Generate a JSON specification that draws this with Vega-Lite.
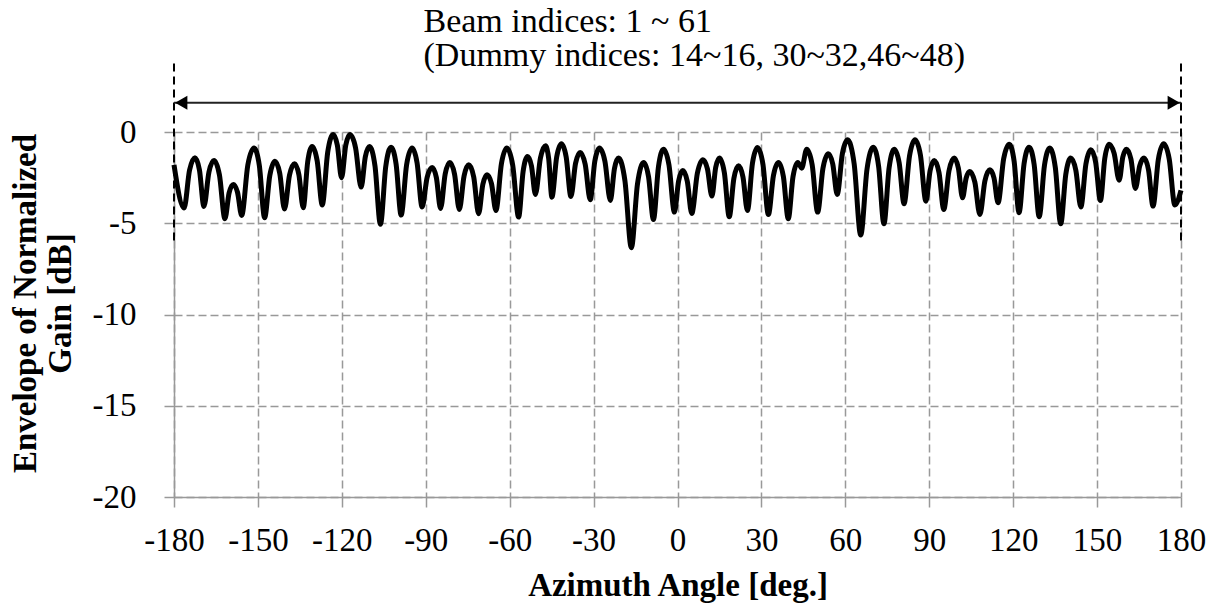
{
  "$schema": "https://vega.github.io/schema/vega-lite/v6.json",
  "autosize": {"type": "none"},
  "width": 1007,
  "height": 365,
  "padding": {"left": 174, "top": 132, "right": 35, "bottom": 106},
  "background": "white",
  "config": {"view": {"stroke": null}, "font": "Liberation Serif"},
  "datasets": {
    "curve": [
      {"deg": -180, "db": -1.8}, {"deg": -176.4, "db": -4.17},
      {"deg": -174.45, "db": -2.1}, {"deg": -172.5, "db": -1.41}, {"deg": -170.9, "db": -2.08}, {"deg": -169.3, "db": -4.08},
      {"deg": -167.5, "db": -2.19}, {"deg": -165.7, "db": -1.56}, {"deg": -163.75, "db": -2.36}, {"deg": -161.8, "db": -4.75},
      {"deg": -160.3, "db": -3.34}, {"deg": -158.8, "db": -2.87}, {"deg": -157.3, "db": -3.3}, {"deg": -155.8, "db": -4.57},
      {"deg": -153.6, "db": -1.8}, {"deg": -151.4, "db": -0.87}, {"deg": -149.5, "db": -1.83}, {"deg": -147.6, "db": -4.7},
      {"deg": -145.75, "db": -2.38}, {"deg": -143.9, "db": -1.6}, {"deg": -142.2, "db": -2.26}, {"deg": -140.5, "db": -4.22},
      {"deg": -138.7, "db": -2.36}, {"deg": -136.9, "db": -1.74}, {"deg": -135.35, "db": -2.34}, {"deg": -133.8, "db": -4.15},
      {"deg": -132.2, "db": -1.63}, {"deg": -130.6, "db": -0.79}, {"deg": -128.8, "db": -1.59}, {"deg": -127.0, "db": -4.0},
      {"deg": -125.05, "db": -1.11}, {"deg": -123.1, "db": -0.14}, {"deg": -121.6, "db": -0.73}, {"deg": -120.1, "db": -2.51},
      {"deg": -118.6, "db": -0.73}, {"deg": -117.1, "db": -0.14}, {"deg": -115.1, "db": -0.86}, {"deg": -113.1, "db": -3.02},
      {"deg": -111.6, "db": -1.35}, {"deg": -110.1, "db": -0.79}, {"deg": -108.15, "db": -1.86}, {"deg": -106.2, "db": -5.06},
      {"deg": -104.3, "db": -1.89}, {"deg": -102.4, "db": -0.83}, {"deg": -100.6, "db": -1.76}, {"deg": -98.8, "db": -4.55},
      {"deg": -96.85, "db": -1.8}, {"deg": -94.9, "db": -0.88}, {"deg": -93.1, "db": -1.69}, {"deg": -91.3, "db": -4.11},
      {"deg": -89.5, "db": -2.48}, {"deg": -87.7, "db": -1.94}, {"deg": -86.2, "db": -2.5}, {"deg": -84.7, "db": -4.19},
      {"deg": -83.05, "db": -2.3}, {"deg": -81.4, "db": -1.67}, {"deg": -79.7, "db": -2.31}, {"deg": -78.0, "db": -4.24},
      {"deg": -76.3, "db": -2.41}, {"deg": -74.6, "db": -1.8}, {"deg": -72.85, "db": -2.47}, {"deg": -71.1, "db": -4.48},
      {"deg": -69.6, "db": -2.88}, {"deg": -68.1, "db": -2.34}, {"deg": -66.5, "db": -2.83}, {"deg": -64.9, "db": -4.3},
      {"deg": -62.95, "db": -1.74}, {"deg": -61.0, "db": -0.88}, {"deg": -58.9, "db": -1.83}, {"deg": -56.8, "db": -4.66},
      {"deg": -55.2, "db": -2.17}, {"deg": -53.6, "db": -1.34}, {"deg": -52.2, "db": -1.86}, {"deg": -50.8, "db": -3.42},
      {"deg": -49.0, "db": -1.43}, {"deg": -47.2, "db": -0.76}, {"deg": -46.05, "db": -1.46}, {"deg": -44.9, "db": -3.57},
      {"deg": -43.2, "db": -1.38}, {"deg": -41.5, "db": -0.65}, {"deg": -39.8, "db": -1.37}, {"deg": -38.1, "db": -3.53},
      {"deg": -36.45, "db": -1.72}, {"deg": -34.8, "db": -1.12}, {"deg": -33.0, "db": -1.77}, {"deg": -31.2, "db": -3.71},
      {"deg": -29.55, "db": -1.59}, {"deg": -27.9, "db": -0.88}, {"deg": -25.95, "db": -1.6}, {"deg": -24.0, "db": -3.75},
      {"deg": -22.55, "db": -2.01}, {"deg": -21.1, "db": -1.43}, {"deg": -18.8, "db": -2.66}, {"deg": -16.5, "db": -6.34},
      {"deg": -14.3, "db": -2.84}, {"deg": -12.1, "db": -1.67}, {"deg": -10.35, "db": -2.45}, {"deg": -8.6, "db": -4.79},
      {"deg": -6.8, "db": -1.9}, {"deg": -5.0, "db": -0.94}, {"deg": -3.05, "db": -1.8}, {"deg": -1.1, "db": -4.39},
      {"deg": 0.4, "db": -2.68}, {"deg": 1.9, "db": -2.11}, {"deg": 3.5, "db": -2.7}, {"deg": 5.1, "db": -4.46},
      {"deg": 7.1, "db": -2.26}, {"deg": 9.1, "db": -1.52}, {"deg": 10.7, "db": -2.02}, {"deg": 12.3, "db": -3.51},
      {"deg": 13.65, "db": -1.95}, {"deg": 15.0, "db": -1.43}, {"deg": 16.75, "db": -2.23}, {"deg": 18.5, "db": -4.64},
      {"deg": 20.15, "db": -2.55}, {"deg": 21.8, "db": -1.85}, {"deg": 23.4, "db": -2.46}, {"deg": 25.0, "db": -4.3},
      {"deg": 26.8, "db": -1.71}, {"deg": 28.6, "db": -0.85}, {"deg": 30.55, "db": -1.77}, {"deg": 32.5, "db": -4.52},
      {"deg": 34.3, "db": -2.38}, {"deg": 36.1, "db": -1.67}, {"deg": 37.85, "db": -2.44}, {"deg": 39.6, "db": -4.75},
      {"deg": 41.3, "db": -2.44}, {"deg": 43.0, "db": -1.67}, {"deg": 44.4, "db": -1.98}, {"deg": 46.2, "db": -0.94},
      {"deg": 48.15, "db": -1.8}, {"deg": 50.1, "db": -4.39},
      {"deg": 52.0, "db": -1.99}, {"deg": 53.9, "db": -1.19}, {"deg": 55.5, "db": -1.75}, {"deg": 57.1, "db": -3.42},
      {"deg": 58.95, "db": -1.18}, {"deg": 60.8, "db": -0.43}, {"deg": 63.15, "db": -1.74}, {"deg": 65.5, "db": -5.65},
      {"deg": 67.75, "db": -2.04}, {"deg": 70.0, "db": -0.83}, {"deg": 71.9, "db": -1.88}, {"deg": 73.8, "db": -5.03},
      {"deg": 75.65, "db": -1.96}, {"deg": 77.5, "db": -0.94}, {"deg": 79.25, "db": -1.69}, {"deg": 81.0, "db": -3.93},
      {"deg": 82.95, "db": -1.31}, {"deg": 84.9, "db": -0.43}, {"deg": 86.85, "db": -1.27}, {"deg": 88.8, "db": -3.79},
      {"deg": 90.3, "db": -2.12}, {"deg": 91.8, "db": -1.56}, {"deg": 93.5, "db": -2.23}, {"deg": 95.2, "db": -4.24},
      {"deg": 97.05, "db": -2.13}, {"deg": 98.9, "db": -1.43}, {"deg": 100.4, "db": -1.97}, {"deg": 101.9, "db": -3.6},
      {"deg": 103.2, "db": -2.52}, {"deg": 104.5, "db": -2.16}, {"deg": 106.3, "db": -2.75}, {"deg": 108.1, "db": -4.52},
      {"deg": 109.9, "db": -2.68}, {"deg": 111.7, "db": -2.07}, {"deg": 113.15, "db": -2.52}, {"deg": 114.6, "db": -3.88},
      {"deg": 116.6, "db": -1.47}, {"deg": 118.6, "db": -0.67}, {"deg": 120.35, "db": -1.61}, {"deg": 122.1, "db": -4.42},
      {"deg": 123.9, "db": -1.73}, {"deg": 125.7, "db": -0.83}, {"deg": 127.5, "db": -1.78}, {"deg": 129.3, "db": -4.64},
      {"deg": 131.2, "db": -1.82}, {"deg": 133.1, "db": -0.88}, {"deg": 135.05, "db": -1.92}, {"deg": 137.0, "db": -5.03},
      {"deg": 138.8, "db": -2.33}, {"deg": 140.6, "db": -1.43}, {"deg": 142.4, "db": -2.1}, {"deg": 144.2, "db": -4.11},
      {"deg": 146.0, "db": -1.76}, {"deg": 147.8, "db": -0.97}, {"deg": 149.5, "db": -1.67}, {"deg": 151.2, "db": -3.75},
      {"deg": 152.75, "db": -1.44}, {"deg": 154.3, "db": -0.67}, {"deg": 156.1, "db": -1.17}, {"deg": 157.9, "db": -2.65},
      {"deg": 159.2, "db": -1.37}, {"deg": 160.5, "db": -0.94}, {"deg": 162.1, "db": -1.48}, {"deg": 163.7, "db": -3.09},
      {"deg": 165.25, "db": -1.85}, {"deg": 166.8, "db": -1.43}, {"deg": 168.4, "db": -2.09}, {"deg": 170.0, "db": -4.06},
      {"deg": 171.9, "db": -1.5}, {"deg": 173.8, "db": -0.65}, {"deg": 175.8, "db": -1.49}, {"deg": 177.8, "db": -4.0},
      {"deg": 180, "db": -3.2}
    ],
    "bounds": [
      {"deg": -180, "top": 3.75, "bottom": -5.94},
      {"deg": 180, "top": 3.75, "bottom": -5.94}
    ],
    "span": [
      {"from": -180, "to": 180, "level": 1.6}
    ],
    "heads": [
      {"deg": -177.4, "level": 1.6, "shape": "triangle-left"},
      {"deg": 177.4, "level": 1.6, "shape": "triangle-right"}
    ],
    "notes": [
      {"deg": -90.8, "level": 5.5, "text": "Beam indices: 1 ~ 61"},
      {"deg": -90.8, "level": 3.6, "text": "(Dummy indices: 14~16, 30~32,46~48)"}
    ]
  },
  "layer": [
    {
      "data": {"name": "curve"},
      "mark": {"type": "line", "color": "black", "strokeWidth": 5, "interpolate": "monotone", "strokeJoin": "round"},
      "encoding": {
        "x": {
          "field": "deg", "type": "quantitative",
          "scale": {"domain": [-180, 180], "nice": false, "zero": false},
          "axis": {
            "values": [-180, -150, -120, -90, -60, -30, 0, 30, 60, 90, 120, 150, 180],
            "labelExpr": "'' + datum.value",
            "grid": true, "gridColor": "#999999", "gridDash": [8, 4], "gridWidth": 1.5,
            "domainColor": "#999999", "domainWidth": 1.5,
            "tickColor": "#999999", "tickSize": 10, "tickWidth": 1.5,
            "labelFont": "Liberation Serif", "labelFontSize": 33, "labelColor": "black",
            "labelBaseline": "alphabetic", "labelPadding": 43, "labelFlush": false, "labelOverlap": false,
            "title": "Azimuth Angle [deg.]", "titleFont": "Liberation Serif", "titleFontSize": 33,
            "titleFontWeight": "bold", "titleColor": "black", "titleBaseline": "alphabetic", "titleY": 98
          }
        },
        "y": {
          "field": "db", "type": "quantitative",
          "scale": {"domain": [-20, 0], "nice": false, "zero": false},
          "axis": {
            "values": [-20, -15, -10, -5, 0],
            "labelExpr": "'' + datum.value",
            "grid": true, "gridColor": "#999999", "gridDash": [8, 4], "gridWidth": 1.5,
            "domainColor": "#999999", "domainWidth": 1.5,
            "tickColor": "#999999", "tickSize": 10, "tickWidth": 1.5,
            "labelFont": "Liberation Serif", "labelFontSize": 33, "labelColor": "black",
            "labelBaseline": "middle", "labelPadding": 28, "labelFlush": false, "labelOverlap": false,
            "title": ["Envelope of Normalized", "Gain [dB]"], "titleFont": "Liberation Serif", "titleFontSize": 33,
            "titleFontWeight": "bold", "titleColor": "black", "titleAngle": -90, "titleAlign": "center",
            "titleBaseline": "alphabetic", "titleLineHeight": 35, "titleX": -139, "titleY": 171
          }
        }
      }
    },
    {
      "data": {"name": "bounds"},
      "mark": {"type": "rule", "color": "black", "strokeWidth": 2, "strokeDash": [8, 5]},
      "encoding": {
        "x": {"field": "deg", "type": "quantitative"},
        "y": {"field": "top", "type": "quantitative"},
        "y2": {"field": "bottom"}
      }
    },
    {
      "data": {"name": "span"},
      "mark": {"type": "rule", "color": "#222222", "strokeWidth": 2},
      "encoding": {
        "x": {"field": "from", "type": "quantitative"},
        "x2": {"field": "to"},
        "y": {"field": "level", "type": "quantitative"}
      }
    },
    {
      "data": {"name": "heads"},
      "mark": {"type": "point", "filled": true, "color": "black", "size": 200, "opacity": 1},
      "encoding": {
        "x": {"field": "deg", "type": "quantitative"},
        "y": {"field": "level", "type": "quantitative"},
        "shape": {"field": "shape", "type": "nominal", "scale": null}
      }
    },
    {
      "data": {"name": "notes"},
      "mark": {"type": "text", "align": "left", "baseline": "alphabetic", "font": "Liberation Serif", "fontSize": 34, "color": "black"},
      "encoding": {
        "x": {"field": "deg", "type": "quantitative"},
        "y": {"field": "level", "type": "quantitative"},
        "text": {"field": "text", "type": "nominal"}
      }
    }
  ]
}
